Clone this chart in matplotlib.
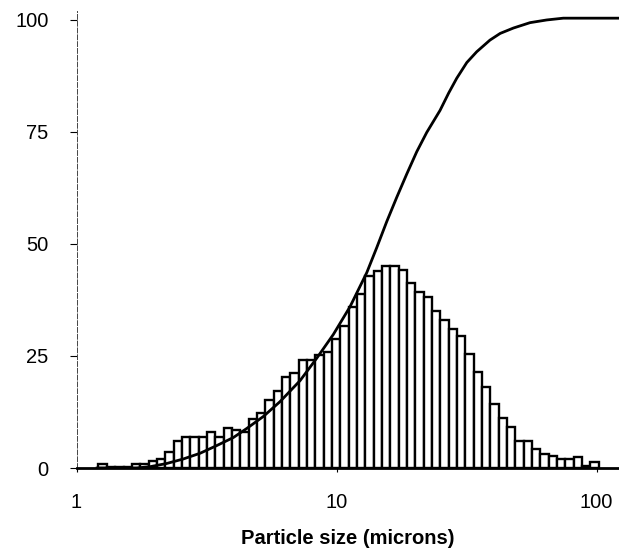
import numpy as np
import matplotlib
matplotlib.use('Agg')
import matplotlib.pyplot as plt

plt.rcParams['font.family'] = ['Liberation Sans', 'DejaVu Sans']

# histogram: frequency per size class (log-spaced classes)
first_edge = 1.215          # microns, lower edge of first class
class_step = 0.03205        # class width in decades
freq = [1.0, 0.2, 0.2, 0.3, 0.8, 0.8, 1.5, 2.0, 3.5, 6.0,
        7.0, 7.0, 7.0, 8.0, 7.0, 9.0, 8.5, 8.0, 11.0, 12.3,
        15.2, 17.2, 20.3, 21.2, 24.1, 24.1, 25.2, 25.9, 28.8, 31.7,
        35.9, 38.8, 42.9, 44.0, 45.1, 45.1, 44.2, 41.3, 39.3, 38.2,
        35.0, 33.0, 31.0, 29.5, 25.5, 21.5, 18.0, 14.3, 11.2, 9.1,
        6.0, 6.0, 4.2, 3.1, 2.7, 2.0, 2.0, 2.4, 0.5, 1.3]

# cumulative curve
cum_size = [1.2, 1.7, 1.92, 2.22, 2.57, 2.99, 3.46, 4.01, 4.51, 5.23,
            6.06, 7.24, 8.39, 9.72, 11.27, 13.07, 14.28, 15.6, 17.04, 18.62,
            20.35, 22.23, 25.0, 27.0, 29.0, 31.7, 34.6, 38.9, 42.6, 47.9,
            55.5, 64.3, 74.5, 122]
cum_val = [0, 0, 0.3, 1.0, 2.0, 3.3, 5.0, 6.8, 8.8, 11.5,
           14.8, 19.5, 24.5, 29.8, 36.0, 43.6, 49.2, 55.0, 60.4, 65.6,
           70.6, 74.9, 79.8, 83.7, 87.0, 90.5, 92.9, 95.5, 97.0, 98.2,
           99.4, 100.0, 100.4, 100.4]

yticks = [0, 25, 50, 75, 100]
xticks = [1, 10, 100]

edges = first_edge * 10 ** (class_step * np.arange(len(freq) + 1))

fig = plt.figure(figsize=(6.19, 5.53), dpi=100)
ax = fig.add_axes([0.1236, 0.1537, 0.8764, 0.8264])

ax.bar(edges[:-1], freq, width=np.diff(edges), align='edge',
       color='white', edgecolor='black', linewidth=1.7, zorder=2)
ax.plot(cum_size, cum_val, color='black', linewidth=2.0, zorder=3,
        solid_joinstyle='round')

ax.set_xscale('log')
ax.set_xlim(1, 122)
ax.set_ylim(0, 102)

ax.set_xticks(xticks)
ax.set_xticklabels([str(t) for t in xticks])
ax.xaxis.set_minor_locator(matplotlib.ticker.NullLocator())
ax.set_yticks(yticks)

ax.tick_params(axis='y', direction='out', length=5, width=0.8, pad=15, labelsize=14.5)
ax.tick_params(axis='x', direction='out', length=3, width=0.8, pad=15, labelsize=14.5)

for s in ['top', 'right']:
    ax.spines[s].set_visible(False)
ax.spines['bottom'].set_linewidth(2)
ax.spines['bottom'].set_zorder(4)
ax.spines['left'].set_linewidth(0.7)
ax.spines['left'].set_linestyle((0, (5, 2)))
ax.spines['left'].set_color('#444444')

ax.set_xlabel('Particle size (microns)', fontsize=14.5, fontweight='bold', labelpad=12)

fig.savefig('out.png', dpi=100)
